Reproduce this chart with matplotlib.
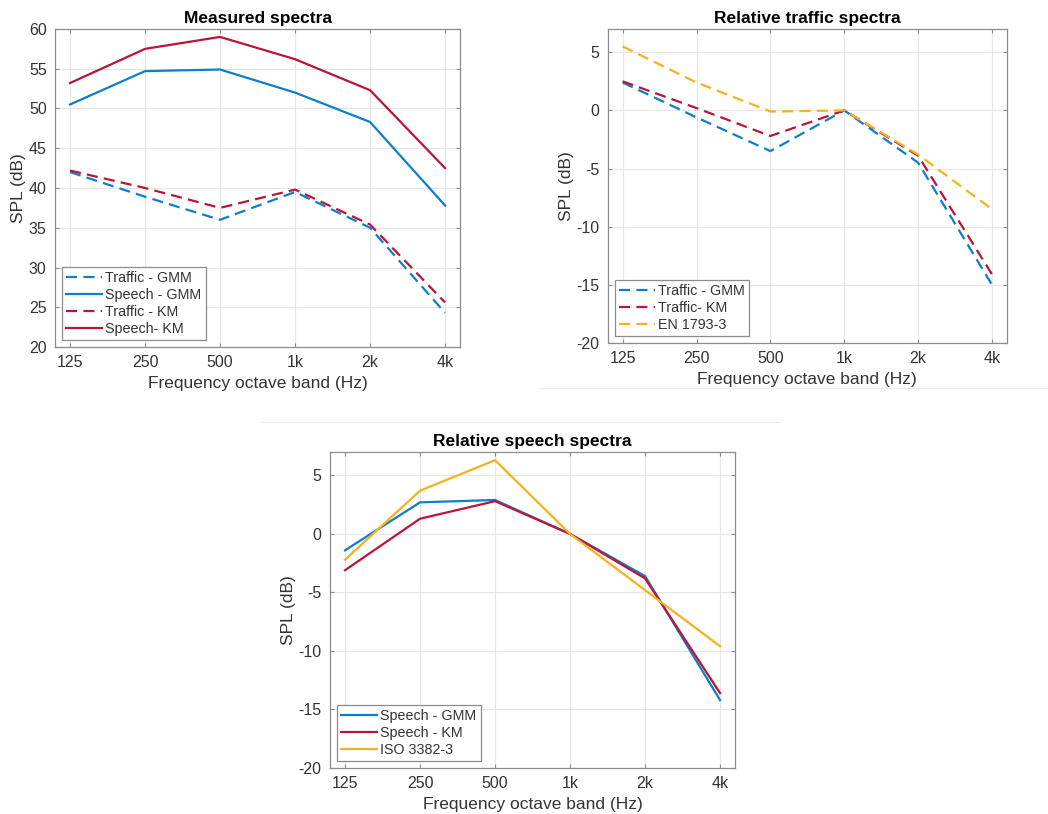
import matplotlib.pyplot as plt
from matplotlib.lines import Line2D

plt.rcParams['font.family'] = ['Liberation Sans', 'DejaVu Sans']
plt.rcParams['axes.unicode_minus'] = False

BLUE = "#0D7DCC"
RED = "#BA1538"
YELLOW = "#F5B21C"
DASH = (0, (5, 2.8))

bands = ["125", "250", "500", "1k", "2k", "4k"]

# Measured spectra (dB)
traffic_gmm = [42.0, 38.9, 36.0, 39.5, 35.0, 24.3]
speech_gmm = [50.5, 54.7, 54.9, 52.0, 48.3, 37.8]
traffic_km = [42.2, 40.0, 37.5, 39.8, 35.4, 25.6]
speech_km = [53.2, 57.5, 59.0, 56.2, 52.3, 42.5]

# Relative traffic spectra (dB re 1k)
rel_traffic_gmm = [2.4, -0.6, -3.5, 0.0, -4.5, -15.0]
rel_traffic_km = [2.5, 0.2, -2.2, 0.0, -3.9, -14.1]
en_1793 = [5.5, 2.4, -0.1, 0.0, -3.8, -8.5]

# Relative speech spectra (dB re 1k)
rel_speech_gmm = [-1.4, 2.7, 2.9, 0.0, -3.6, -14.2]
rel_speech_km = [-3.1, 1.3, 2.8, 0.0, -3.8, -13.6]
iso_3382 = [-2.2, 3.7, 6.3, 0.0, -4.8, -9.6]

x = list(range(len(bands)))

fig = plt.figure(figsize=(10.48, 8.14), dpi=100)


def style_axes(ax, title, ylim, yticks):
    ax.set_xlim(-0.2, 5.2)
    ax.set_ylim(*ylim)
    ax.set_xticks(x)
    ax.set_xticklabels(bands)
    ax.set_yticks(yticks)
    ax.grid(True, color="#e6e6e6", linewidth=0.8)
    ax.set_axisbelow(True)
    for s in ax.spines.values():
        s.set_color("#8c8c8c")
        s.set_linewidth(0.9)
    ax.tick_params(direction="in", length=3, color="#8c8c8c", labelcolor="#333333",
                   labelsize=11.5, top=True, right=True, pad=6)
    ax.set_title(title, fontsize=12.5, fontweight="bold", pad=4)
    ax.set_xlabel("Frequency octave band (Hz)", fontsize=12.5, color="#333333", labelpad=4)
    ax.set_ylabel("SPL (dB)", fontsize=12.5, color="#333333", labelpad=2)


def add_legend(ax):
    leg = ax.legend(loc="lower left", fontsize=10.3, handlelength=2.5, handletextpad=0.2,
                    borderpad=0.3, labelspacing=0.2, fancybox=False,
                    borderaxespad=0.5, framealpha=1)
    leg.get_frame().set_edgecolor("#8c8c8c")
    leg.get_frame().set_linewidth(0.9)
    for t in leg.get_texts():
        t.set_color("#333333")


# ── Measured spectra ─────────────────────────────────────────────────────────
ax1 = fig.add_axes([0.0525, 0.5737, 0.3865, 0.3907])
ax1.plot(x, traffic_gmm, color=BLUE, linestyle=DASH, linewidth=1.6, label="Traffic - GMM")
ax1.plot(x, speech_gmm, color=BLUE, linewidth=1.6, label="Speech - GMM")
ax1.plot(x, traffic_km, color=RED, linestyle=DASH, linewidth=1.6, label="Traffic - KM")
ax1.plot(x, speech_km, color=RED, linewidth=1.6, label="Speech- KM")
style_axes(ax1, "Measured spectra", (20, 60), range(20, 61, 5))
add_legend(ax1)

# ── Relative traffic spectra ─────────────────────────────────────────────────
ax2 = fig.add_axes([0.580, 0.5786, 0.3807, 0.3858])
ax2.plot(x, rel_traffic_gmm, color=BLUE, linestyle=DASH, linewidth=1.6, label="Traffic - GMM")
ax2.plot(x, rel_traffic_km, color=RED, linestyle=DASH, linewidth=1.6, label="Traffic- KM")
ax2.plot(x, en_1793, color=YELLOW, linestyle=DASH, linewidth=1.6, label="EN 1793-3")
style_axes(ax2, "Relative traffic spectra", (-20, 7), range(-20, 6, 5))
add_legend(ax2)

# ── Relative speech spectra ──────────────────────────────────────────────────
ax3 = fig.add_axes([0.3149, 0.0565, 0.3865, 0.3882])
ax3.plot(x, rel_speech_gmm, color=BLUE, linewidth=1.6, label="Speech - GMM")
ax3.plot(x, rel_speech_km, color=RED, linewidth=1.6, label="Speech - KM")
ax3.plot(x, iso_3382, color=YELLOW, linewidth=1.6, label="ISO 3382-3")
style_axes(ax3, "Relative speech spectra", (-20, 7), range(-20, 6, 5))
add_legend(ax3)

# faint panel separators from the composite image
fig.add_artist(Line2D([540 / 1048, 1.0], [1 - 388 / 814] * 2, color="#ececec", linewidth=0.8))
fig.add_artist(Line2D([262 / 1048, 780 / 1048], [1 - 422 / 814] * 2, color="#ececec", linewidth=0.8))

fig.savefig("out.png", dpi=100)
